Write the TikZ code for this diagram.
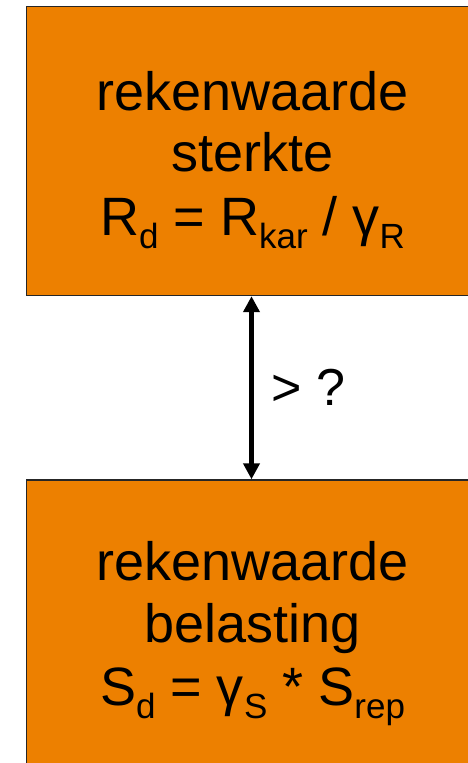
\documentclass[tikz,border=0pt]{standalone}
\usepackage{fontspec}
\setmainfont{Liberation Sans}
\usetikzlibrary{arrows.meta}
\definecolor{boxorange}{RGB}{237,128,0}
\newcommand\mysub[1]{\raisebox{-13pt}{\fontsize{35}{35}\selectfont #1}}
\begin{document}
\begin{tikzpicture}[x=1pt,y=-1pt,
  box/.style={draw=black!85,line width=1.4pt,fill=boxorange,rectangle,inner sep=0pt},
  txt/.style={anchor=base,inner sep=0pt,font=\fontsize{54}{54}\selectfont}]
\useasboundingbox (0,0) rectangle (468,763);
\clip (0,0) rectangle (468,763);
\node[box,minimum width=451.5pt,minimum height=289pt] (top) at (252.25,151) {};
\node[box,minimum width=451.5pt,minimum height=300pt] (bot) at (252.25,630) {};
\node[txt] (t1) at (252.5,110) {rekenwaarde};
\node[txt] (t2) at (252.5,171) {sterkte};
\node[txt] (t3) at (252.5,235) {R\mysub{d} = R\mysub{kar} / γ\mysub{R}};
\node[txt] (b1) at (252.5,580) {rekenwaarde};
\node[txt] (b2) at (252.5,642) {belasting};
\node[txt] (b3) at (252.5,705) {S\mysub{d} = γ\mysub{S} * S\mysub{rep}};
\draw[line width=4.5pt,{Triangle[width=16pt,length=16pt]}-{Triangle[width=16pt,length=16pt]}]
  (top.south -| 251.5,0) -- (bot.north -| 251.5,0)
  node[midway,right=18pt,font=\fontsize{52}{52}\selectfont,inner sep=0pt] (lbl) {> ?};
\end{tikzpicture}
\end{document}
